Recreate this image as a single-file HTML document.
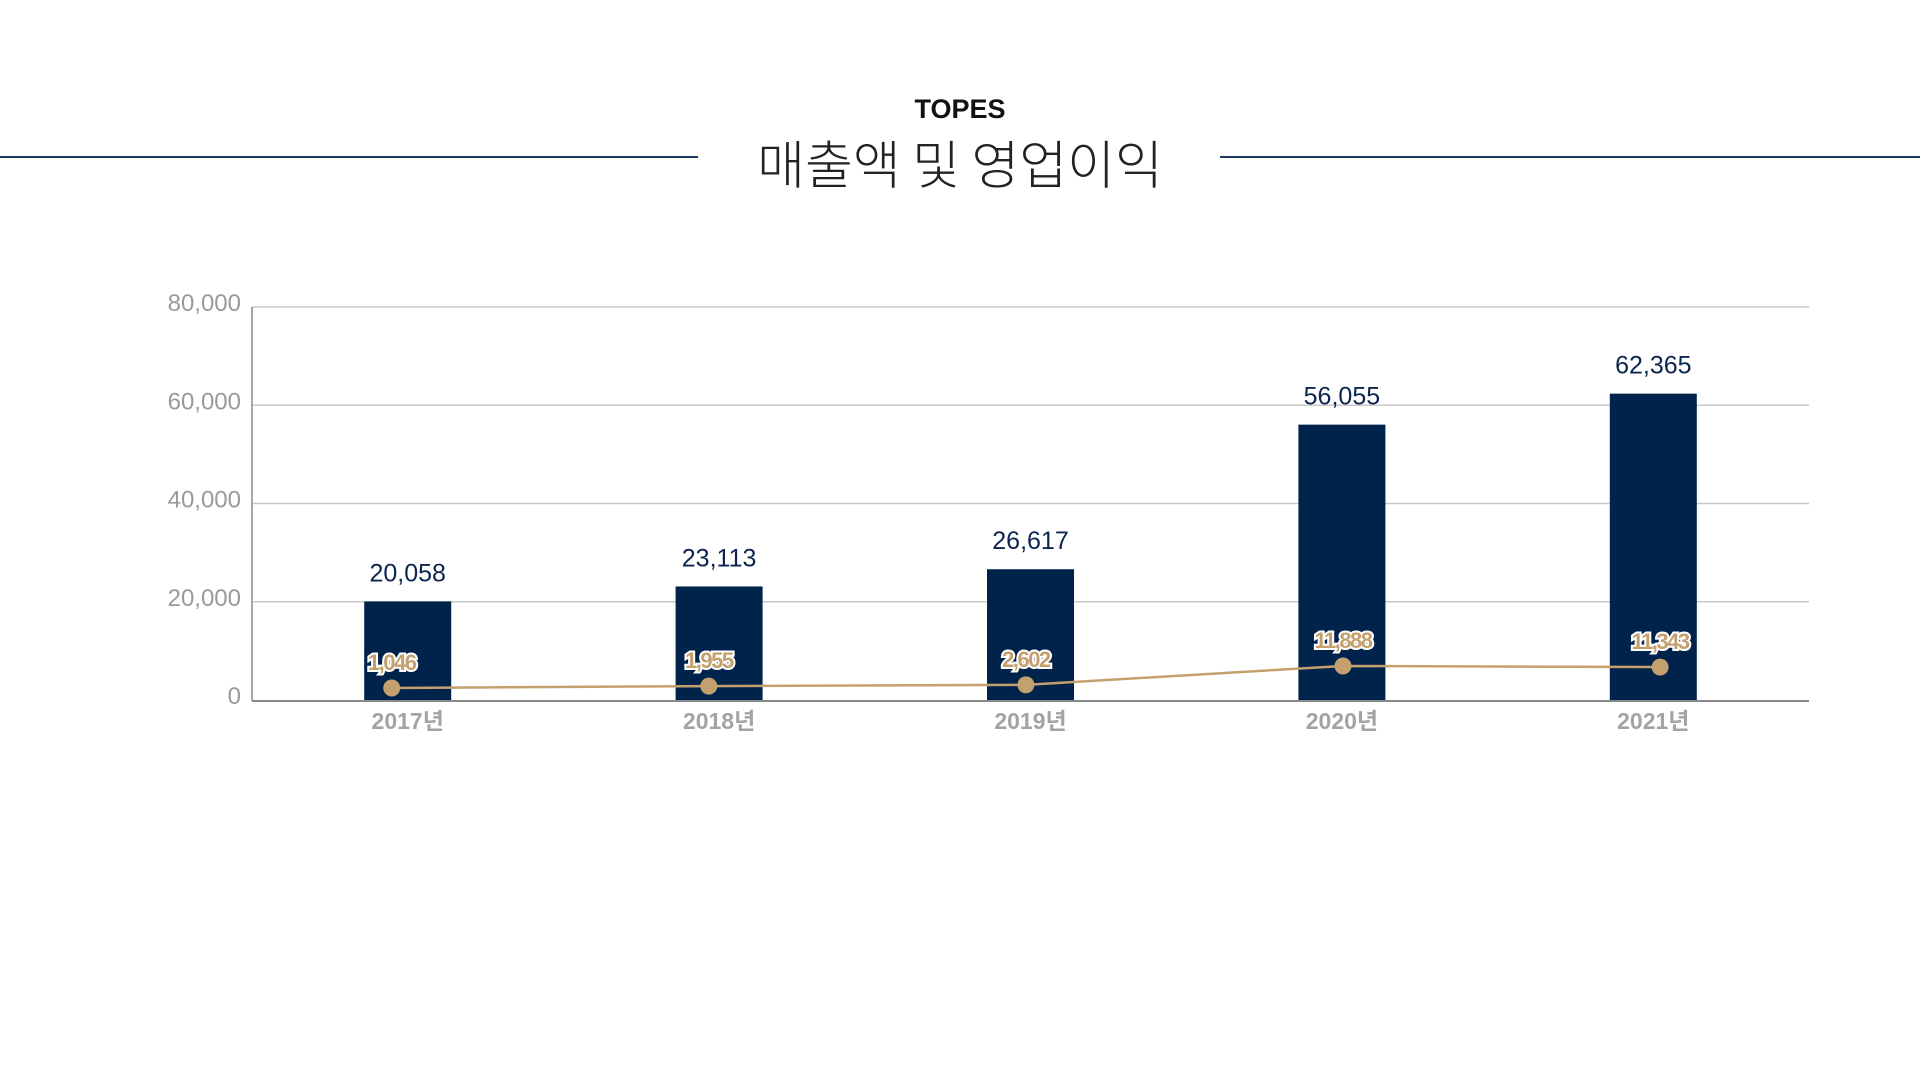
<!DOCTYPE html>
<html><head><meta charset="utf-8"><style>
html,body{margin:0;padding:0;background:#fff;width:1920px;height:1080px;overflow:hidden}
svg{display:block}
</style></head><body>
<svg id="chart" width="1920" height="1080" viewBox="0 0 1920 1080" xmlns="http://www.w3.org/2000/svg">
  <line x1="0" y1="157" x2="698" y2="157" stroke="#1f3a60" stroke-width="2"/>
  <line x1="1220" y1="157" x2="1920" y2="157" stroke="#1f3a60" stroke-width="2"/>
  <text x="960" y="118" text-anchor="middle" font-family="'Liberation Sans', 'Noto Sans CJK KR', sans-serif" font-weight="bold" font-size="27" fill="#111">TOPES</text>
  <text x="960" y="184" text-anchor="middle" font-family="'Noto Sans CJK KR', sans-serif" font-weight="300" font-size="52" fill="#222">매출액 및 영업이익</text>
  <g id="grid"></g>
  <g id="bars"></g>
  <g id="line"></g>
  <g id="labels"></g>
</svg>
<script>
const categories = ['2017년','2018년','2019년','2020년','2021년'];
const revenue = [20058, 23113, 26617, 56055, 62365];
const operatingProfit = [1046, 1955, 2602, 11888, 11343];
const yTicks = [0, 20000, 40000, 60000, 80000];
const yTickLabels = ['0','20,000','40,000','60,000','80,000'];

const NS = 'http://www.w3.org/2000/svg';
const FONT = "'Liberation Sans', 'Noto Sans CJK KR', sans-serif";
const plotL = 252, plotR = 1809, plotB = 700, plotT = 307;
const yMax = 80000;
function y(v){ return plotB - (v / yMax) * (plotB - plotT); }
const band = (plotR - plotL) / categories.length;
function xc(i){ return plotL + band * (i + 0.5); }
// secondary (operating profit) scale
function y2(v){ return plotB - (9.9 + v * 0.00203); }
const lineX0 = 391.7, lineStep = 317.1;
function x2(i){ return lineX0 + i * lineStep; }

function mk(tag, attrs, parent){
  const e = document.createElementNS(NS, tag);
  for (const k in attrs) e.setAttribute(k, attrs[k]);
  parent.appendChild(e);
  return e;
}
const grid = document.getElementById('grid');
const bars = document.getElementById('bars');
const line = document.getElementById('line');
const labels = document.getElementById('labels');

yTicks.forEach((t, i) => {
  if (t !== 0) {
    const gl = mk('line', {x1: plotL, x2: plotR, y1: y(t), y2: y(t), stroke: '#c8c8c8', 'stroke-width': 1.5}, grid);
    
    
  }
  const tl = mk('text', {x: 241, y: y(t) + 4, 'text-anchor': 'end', 'font-family': FONT, 'font-size': 24, fill: '#9a9a9a'}, grid);
  tl.textContent = yTickLabels[i];
  
  
});
const ya = mk('line', {x1: plotL, x2: plotL, y1: plotT, y2: plotB + 1, stroke: '#8a8a8a', 'stroke-width': 1.5}, grid);



const bw = 87;
revenue.forEach((v, i) => {
  const r = mk('rect', {x: xc(i) - bw/2, y: y(v), width: bw, height: plotB - y(v), fill: '#00234b'}, bars);
  
  
  const t = mk('text', {x: xc(i), y: y(v) - 20, 'text-anchor': 'middle', 'font-family': FONT, 'font-size': 25, fill: '#0b2550'}, labels);
  t.textContent = v.toLocaleString('en-US');
  
  
  const c = mk('text', {x: xc(i), y: 729, 'text-anchor': 'middle', 'font-family': FONT, 'font-size': 23, 'font-weight': 'bold', fill: '#a3a3a3'}, labels);
  c.textContent = categories[i];
  
  
});
const xa = mk('line', {x1: plotL, x2: plotR, y1: plotB + 1, y2: plotB + 1, stroke: '#8a8a8a', 'stroke-width': 2}, grid);



const pts = operatingProfit.map((v, i) => x2(i) + ',' + y2(v)).join(' ');
const pl = mk('polyline', {points: pts, fill: 'none', stroke: '#c4a06e', 'stroke-width': 2.5}, line);


operatingProfit.forEach((v, i) => {
  const d = mk('circle', {cx: x2(i), cy: y2(v), r: 8.5, fill: '#c4a06e'}, line);
  
  
  const t = mk('text', {x: x2(i), y: y2(v) - 18, 'text-anchor': 'middle', 'font-family': FONT, 'font-size': 22, 'font-weight': 'bold', fill: '#c4a06e', stroke: '#fff', 'stroke-width': 4, 'paint-order': 'stroke', 'letter-spacing': '-1.5'}, labels);
  t.textContent = v.toLocaleString('en-US');
  
  
});
</script>
</body></html>
